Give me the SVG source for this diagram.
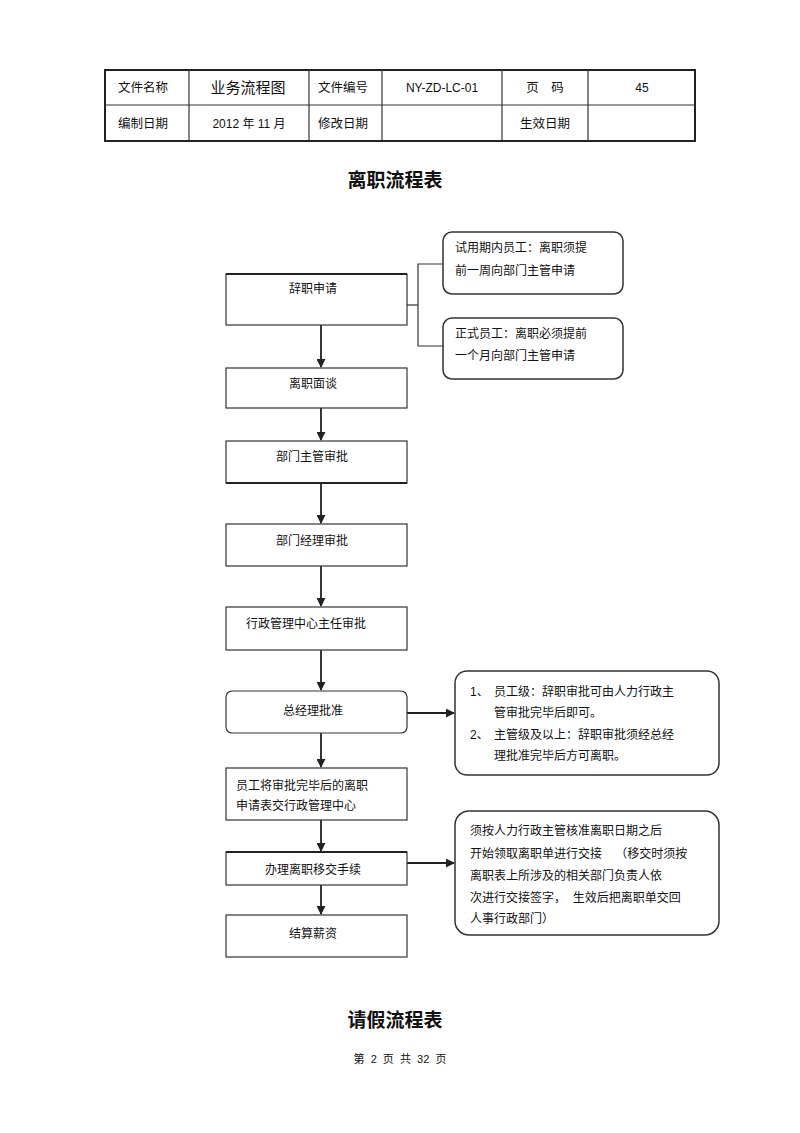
<svg xmlns="http://www.w3.org/2000/svg" width="800" height="1133" viewBox="0 0 800 1133">
<style>
text{font-family:"Liberation Sans","Noto Sans CJK SC",sans-serif;fill:#111;}
.t{font-size:12px;}
.tb{font-size:12.5px;}
.c{text-anchor:middle;}
.box{fill:#fff;stroke:#333;stroke-width:1.2;}
.note{fill:#fff;stroke:#333;stroke-width:1.5;}
.ln{fill:none;stroke:#333;stroke-width:1.2;}
.arr{fill:none;stroke:#222;stroke-width:1.8;marker-end:url(#ah);}
.h{font-size:19px;font-weight:600;}
</style>
<defs>
<marker id="ah" viewBox="0 0 10 10" refX="9" refY="5" markerWidth="5" markerHeight="5" orient="auto" markerUnits="strokeWidth">
<path d="M0,0 L10,5 L0,10 z" fill="#222"/>
</marker>
</defs>
<rect width="800" height="1133" fill="#fff"/>

<g id="header-table">
<rect x="105" y="70" width="590" height="71" fill="none" stroke="#222" stroke-width="2"/>
<line x1="105" y1="105" x2="695" y2="105" class="ln"/>
<line x1="189" y1="70" x2="189" y2="141" class="ln"/>
<line x1="309" y1="70" x2="309" y2="141" class="ln"/>
<line x1="382" y1="70" x2="382" y2="141" class="ln"/>
<line x1="502" y1="70" x2="502" y2="141" class="ln"/>
<line x1="588" y1="70" x2="588" y2="141" class="ln"/>
<text x="143" y="92" class="tb c">文件名称</text>
<text x="248" y="93" class="c" font-size="15">业务流程图</text>
<text x="343" y="92" class="tb c">文件编号</text>
<text x="442" y="92" class="t c">NY-ZD-LC-01</text>
<text x="545" y="92" class="tb c">页　码</text>
<text x="642" y="92" class="t c">45</text>
<text x="143" y="128" class="tb c">编制日期</text>
<text x="249" y="128" class="t c">2012 年 11 月</text>
<text x="343" y="128" class="tb c">修改日期</text>
<text x="545" y="128" class="tb c">生效日期</text>
</g>

<text x="395" y="187" class="h c">离职流程表</text>

<g id="connectors">
<line x1="321" y1="325" x2="321" y2="367" class="arr"/>
<line x1="321" y1="408" x2="321" y2="440" class="arr"/>
<line x1="321" y1="483" x2="321" y2="523" class="arr"/>
<line x1="321" y1="566" x2="321" y2="606" class="arr"/>
<line x1="321" y1="650" x2="321" y2="690" class="arr"/>
<line x1="321" y1="733" x2="321" y2="767" class="arr"/>
<line x1="321" y1="820" x2="321" y2="851" class="arr"/>
<line x1="321" y1="885" x2="321" y2="914" class="arr"/>
<polyline points="407,305 418,305" class="ln"/>
<polyline points="443,264 418,264 418,346 443,346" class="ln"/>
<line x1="407" y1="713" x2="454" y2="713" class="arr"/>
<line x1="407" y1="863" x2="454" y2="863" class="arr"/>
</g>

<g id="n1">
<rect x="226" y="274" width="181" height="51" class="box"/>
<line x1="226" y1="274" x2="407" y2="274" stroke="#222" stroke-width="2"/>
<text x="313" y="293" class="t c">辞职申请</text>
</g>
<g id="n2">
<rect x="226" y="368" width="181" height="40" class="box"/>
<text x="313" y="388" class="t c">离职面谈</text>
</g>
<g id="n3">
<rect x="226" y="441" width="181" height="42" class="box"/>
<line x1="226" y1="483" x2="407" y2="483" stroke="#222" stroke-width="2"/>
<text x="312" y="461" class="t c">部门主管审批</text>
</g>
<g id="n4">
<rect x="226" y="524" width="181" height="42" class="box"/>
<text x="312" y="545" class="t c">部门经理审批</text>
</g>
<g id="n5">
<rect x="226" y="607" width="181" height="43" class="box"/>
<text x="246" y="628" class="t">行政管理中心主任审批</text>
</g>
<g id="n6">
<rect x="226" y="691" width="181" height="42" rx="6" class="box"/>
<text x="313" y="715" class="t c">总经理批准</text>
</g>
<g id="n7">
<rect x="226" y="768" width="181" height="52" class="box"/>
<text x="236" y="790" class="t">员工将审批完毕后的离职</text>
<text x="236" y="810" class="t">申请表交行政管理中心</text>
</g>
<g id="n8">
<rect x="226" y="852" width="181" height="33" class="box"/>
<line x1="226" y1="852" x2="407" y2="852" stroke="#222" stroke-width="2"/>
<text x="313" y="874" class="t c">办理离职移交手续</text>
</g>
<g id="n9">
<rect x="226" y="915" width="181" height="42" class="box"/>
<text x="313" y="938" class="t c">结算薪资</text>
</g>

<g id="noteA">
<rect x="443" y="232" width="180" height="62" rx="9" class="note"/>
<text x="455" y="252" class="t">试用期内员工：离职须提</text>
<text x="455" y="275" class="t">前一周向部门主管申请</text>
</g>
<g id="noteB">
<rect x="443" y="318" width="180" height="61" rx="9" class="note"/>
<text x="455" y="338" class="t">正式员工：离职必须提前</text>
<text x="455" y="360" class="t">一个月向部门主管申请</text>
</g>
<g id="noteC">
<rect x="455" y="671" width="264" height="104" rx="12" class="note"/>
<text x="470" y="696" class="t">1、</text>
<text x="494" y="696" class="t">员工级：辞职审批可由人力行政主</text>
<text x="494" y="717" class="t">管审批完毕后即可。</text>
<text x="470" y="739" class="t">2、</text>
<text x="494" y="739" class="t">主管级及以上：辞职审批须经总经</text>
<text x="494" y="760" class="t">理批准完毕后方可离职。</text>
</g>
<g id="noteD">
<rect x="455" y="811" width="264" height="124" rx="14" class="note"/>
<text x="470" y="835" class="t">须按人力行政主管核准离职日期之后</text>
<text x="470" y="858" class="t" xml:space="preserve">开始领取离职单进行交接    （移交时须按</text>
<text x="470" y="880" class="t">离职表上所涉及的相关部门负责人依</text>
<text x="470" y="902" class="t" xml:space="preserve">次进行交接签字，  生效后把离职单交回</text>
<text x="470" y="923" class="t">人事行政部门）</text>
</g>

<text x="395" y="1027" class="h c">请假流程表</text>
<text x="400" y="1063" class="c" font-size="11" xml:space="preserve">第  2  页  共  32  页</text>
</svg>
